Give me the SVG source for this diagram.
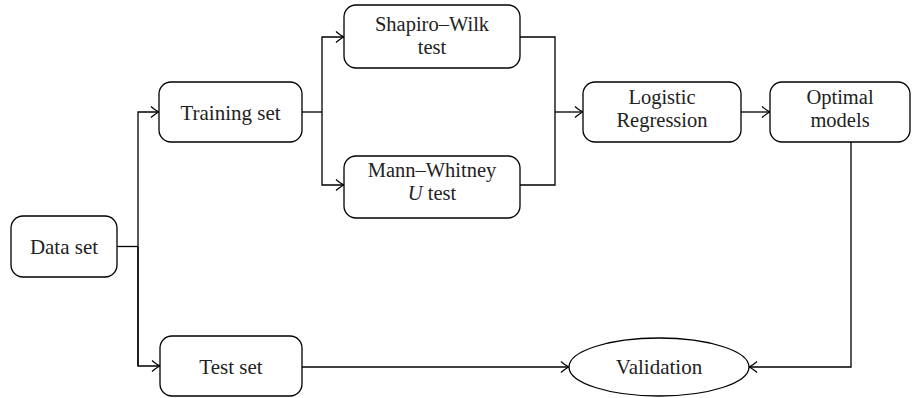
<svg xmlns="http://www.w3.org/2000/svg" width="913" height="398" viewBox="0 0 913 398">
<style>
.box{fill:#fff;stroke:#000;stroke-width:1.3}
.t{font-family:"Liberation Serif",serif;font-size:21px;fill:#222;text-anchor:middle}
.t2{font-family:"Liberation Serif",serif;font-size:20.5px;fill:#222;text-anchor:middle}
.c{fill:none;stroke:#000;stroke-width:1.3}
</style>
<defs>
<marker id="arr" markerUnits="userSpaceOnUse" markerWidth="14" markerHeight="14" viewBox="-10 -7 12 14" refX="0" refY="0" orient="auto">
<path d="M-8,-5.5 Q-3,-1.2 0,0 Q-3,1.2 -8,5.5" fill="none" stroke="#000" stroke-width="1.3"/>
</marker>
</defs>
<g id="connectors">
<path class="c" d="M117,246.5 H138"/>
<path class="c" d="M138,366 V112 H159" marker-end="url(#arr)"/>
<path class="c" d="M138,246 V366 H160" marker-end="url(#arr)"/>
<path class="c" d="M302,112 H322"/>
<path class="c" d="M322,112 V37 H344" marker-end="url(#arr)"/>
<path class="c" d="M322,112 V185 H344" marker-end="url(#arr)"/>
<path class="c" d="M520,37 H555 V185 H520"/>
<path class="c" d="M555,112 H583" marker-end="url(#arr)"/>
<path class="c" d="M741,112 H770" marker-end="url(#arr)"/>
<path class="c" d="M851,142 V367 H749" marker-end="url(#arr)"/>
<path class="c" d="M302,367 H569" marker-end="url(#arr)"/>
</g>
<g id="dataset">
<rect class="box" x="11" y="216" width="106" height="61" rx="12"/>
<text class="t" x="64" y="254">Data set</text>
</g>
<g id="training">
<rect class="box" x="159" y="82" width="143" height="60" rx="12"/>
<text class="t" x="230.5" y="119.5">Training set</text>
</g>
<g id="testset">
<rect class="box" x="160" y="336" width="142" height="60" rx="12"/>
<text class="t" x="231" y="374">Test set</text>
</g>
<g id="shapiro">
<rect class="box" x="344" y="5" width="176" height="63" rx="12"/>
<text class="t2" x="432" y="31">Shapiro–Wilk</text>
<text class="t2" x="432" y="54">test</text>
</g>
<g id="mann">
<rect class="box" x="344" y="156" width="176" height="62" rx="12"/>
<text class="t2" x="432" y="177">Mann–Whitney</text>
<text class="t2" x="432" y="200"><tspan font-style="italic">U</tspan> test</text>
</g>
<g id="logistic">
<rect class="box" x="583" y="82" width="158" height="60" rx="12"/>
<text class="t2" x="662" y="104">Logistic</text>
<text class="t2" x="662" y="127">Regression</text>
</g>
<g id="optimal">
<rect class="box" x="770" y="82" width="140" height="60" rx="12"/>
<text class="t2" x="840" y="104">Optimal</text>
<text class="t2" x="840" y="127">models</text>
</g>
<g id="validation">
<ellipse class="box" cx="659" cy="367" rx="90" ry="29"/>
<text class="t" x="659" y="374">Validation</text>
</g>
</svg>
